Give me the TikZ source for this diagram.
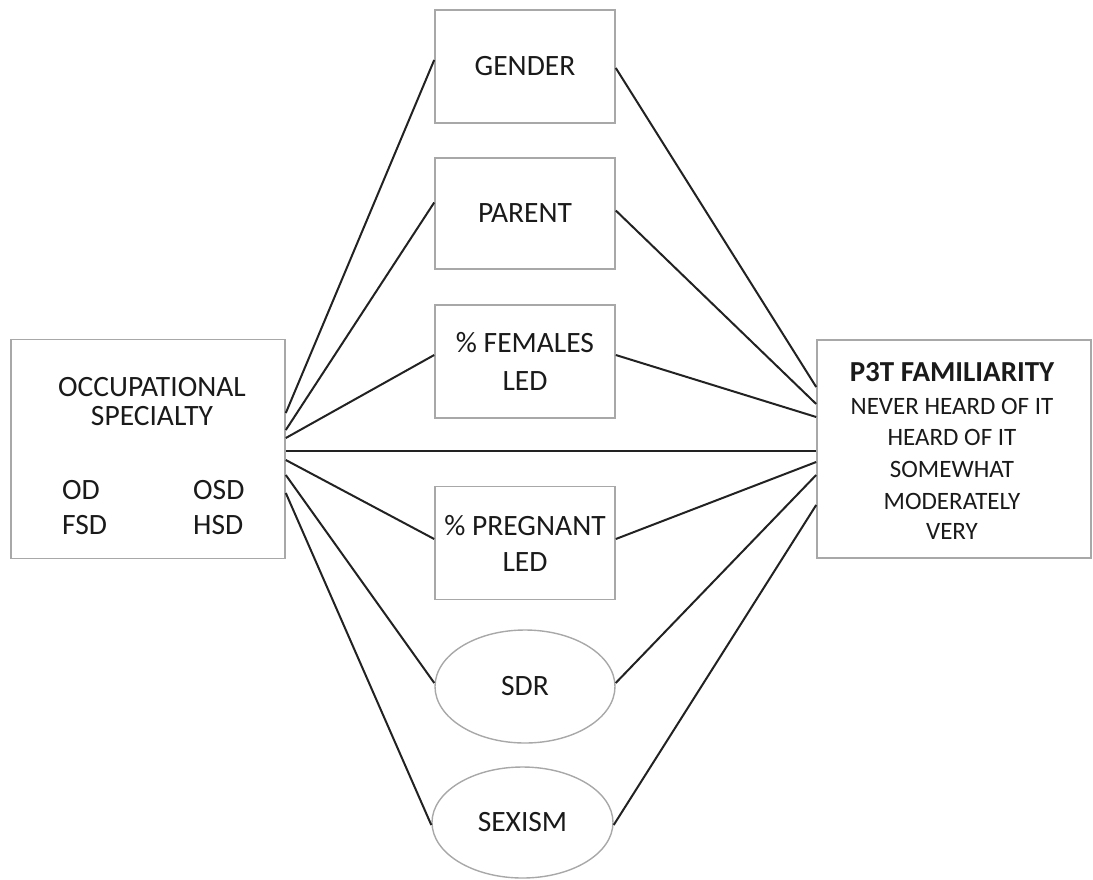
\documentclass[tikz,border=0pt]{standalone}
\usepackage{fontspec}
\setmainfont{Carlito}
\usetikzlibrary{shapes.geometric}
\definecolor{boxgray}{HTML}{A8A8A8}
\definecolor{linec}{HTML}{222222}
\definecolor{textc}{HTML}{1A1A1A}
\tikzset{
  box/.style={draw=boxgray, line width=1.6pt, inner sep=0pt, align=center, text=textc,
    minimum width=180pt, minimum height=113pt, font=\fontsize{29.5}{36}\selectfont},
  oval/.style={ellipse, draw=boxgray, line width=1.4pt, inner sep=0pt, text=textc,
    minimum width=180pt, minimum height=112pt, font=\fontsize{29.5}{36}\selectfont},
  frame/.style={draw=boxgray, line width=1.6pt, inner sep=0pt},
  lab/.style={inner sep=0pt, text=textc, font=\fontsize{29.5}{34}\selectfont},
  rlab/.style={inner sep=0pt, text=textc, font=\fontsize{25}{30}\selectfont},
  link/.style={draw=linec, line width=2pt}
}
\begin{document}
\begin{tikzpicture}[x=1pt,y=-1pt]
\useasboundingbox (0,0) rectangle (1093,879);

% side boxes
\node[frame, minimum width=274pt, minimum height=219pt] (occ) at (148,449) {};
\node[frame, minimum width=274pt, minimum height=218pt] (p3t) at (954,449) {};

% left box text
\node[lab] (occA) at (152,387) {OCCUPATIONAL};
\node[lab] (occB) at (152,416) {SPECIALTY};
\node[lab, anchor=west] (od) at (62,490) {OD};
\node[lab, anchor=west] (fsd) at (62,525) {FSD};
\node[lab, anchor=west] (osd) at (193,490) {OSD};
\node[lab, anchor=west] (hsd) at (193,525) {HSD};

% right box text
\node[lab, font=\fontsize{29}{34}\selectfont\bfseries] (pA) at (952,372) {P3T FAMILIARITY};
\node[rlab] (pB) at (952,406) {NEVER HEARD OF IT};
\node[rlab] (pC) at (952,437) {HEARD OF IT};
\node[rlab] (pD) at (952,469) {SOMEWHAT};
\node[rlab] (pE) at (952,501) {MODERATELY};
\node[rlab] (pF) at (952,531) {VERY};

% middle nodes
\node[box] (gender) at (525,66.5) {GENDER};
\node[box, minimum height=111pt] (parent) at (525,213.5) {PARENT};
\node[box] (fem) at (525,361.5) {\% FEMALES\\[2pt]LED};
\node[box] (preg) at (525,543) {\% PREGNANT\\LED};
\node[oval, minimum height=113pt] (sdr) at (525,686.5) {SDR};
\node[oval, minimum width=181pt, minimum height=111pt] (sex) at (522.5,822.5) {SEXISM};

% connectors from occupational specialty
\draw[link] ([yshift=36pt]occ.east) -- ([yshift=6.5pt]gender.west);
\draw[link] ([yshift=19pt]occ.east) -- ([yshift=11pt]parent.west);
\draw[link] ([yshift=11pt]occ.east) -- ([yshift=6.5pt]fem.west);
\draw[link] ([yshift=-2pt]occ.east) -- ([yshift=-2pt]p3t.west);
\draw[link] ([yshift=-11pt]occ.east) -- ([yshift=4pt]preg.west);
\draw[link] ([yshift=-26pt]occ.east) -- ([yshift=3.5pt]sdr.west);
\draw[link] ([yshift=-44pt]occ.east) -- ([yshift=-2.5pt]sex.west);

% connectors to P3T familiarity
\draw[link] ([yshift=-1.5pt]gender.east) -- ([yshift=62pt]p3t.west);
\draw[link] ([yshift=3pt]parent.east) -- ([yshift=45pt]p3t.west);
\draw[link] ([yshift=6.5pt]fem.east) -- ([yshift=32pt]p3t.west);
\draw[link] ([yshift=4pt]preg.east) -- ([yshift=-13pt]p3t.west);
\draw[link] ([yshift=3.5pt]sdr.east) -- ([yshift=-26pt]p3t.west);
\draw[link] ([yshift=-2.5pt]sex.east) -- ([yshift=-56pt]p3t.west);
\end{tikzpicture}
\end{document}
